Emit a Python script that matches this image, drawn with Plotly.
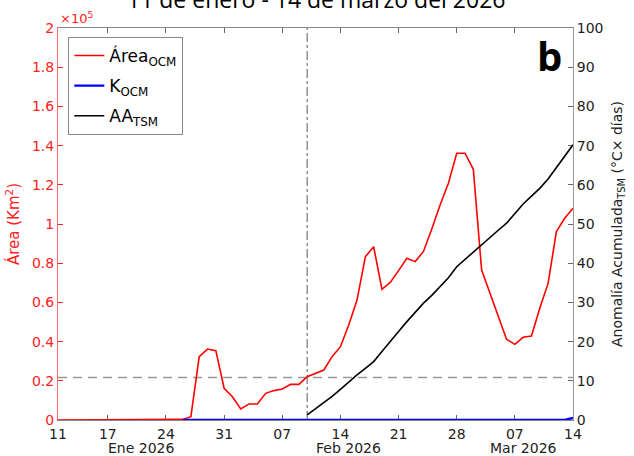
import pandas as pd
import plotly.graph_objects as go

# Daily series, 11 Jan – 14 Mar 2026
dates = pd.date_range("2026-01-11", "2026-03-14", freq="D")

# Área OCM (km²), one value per day
area_ocm = [
    0, 0, 0, 0, 0, 0, 0, 0, 0, 0, 0, 0, 0, 0, 0,
    300, 1700, 32300, 36200, 35400, 16200, 11900, 5600, 8200, 8200,
    13600, 15000, 15800, 18200, 18200, 22100, 23700, 25500, 32300, 37400,
    48500, 61200, 83300, 88400, 66700, 70200, 76200, 82500, 80800, 86000,
    97400, 109700, 120800, 136100, 136100, 127900, 76500, 64600, 52700, 41200,
    38600, 42200, 42900, 57000, 69700, 96100, 102900, 108000,
]

# K OCM (km²), from 26 Jan onwards
k_dates = pd.date_range("2026-01-26", "2026-03-14", freq="D")
k_ocm = [0] * 47 + [1000]

# Anomalía acumulada TSM (°C × días), from 10 Feb onwards
aa_dates = pd.date_range("2026-02-10", "2026-03-14", freq="D")
aa_tsm = [
    1.3, 2.8, 4.3, 6.0, 7.8, 9.7, 11.5, 13.2, 14.9, 17.5, 20.2,
    22.6, 25.1, 27.4, 29.8, 31.8, 34.0, 36.3, 39.1, 41.0, 42.9,
    44.8, 46.6, 48.4, 50.2, 52.7, 55.1, 57.1, 59.1, 61.5, 64.5,
    67.3, 70.2,
]

threshold_area = 21700
onset_date = "2026-02-10"

x_tickvals = ["2026-01-11", "2026-01-17", "2026-01-24", "2026-01-31", "2026-02-07",
              "2026-02-14", "2026-02-21", "2026-02-28", "2026-03-07", "2026-03-14"]
x_ticktext = ["11", "17", "24", "31", "07", "14", "21", "28", "07", "14"]
month_labels = ["Ene 2026", "Feb 2026", "Mar 2026"]
month_pos = ["2026-01-21", "2026-02-14 22:00", "2026-03-08"]

y_tickvals = [0, 20000, 40000, 60000, 80000, 100000, 120000, 140000, 160000, 180000, 200000]
y_ticktext = ["0", "0.2", "0.4", "0.6", "0.8", "1", "1.2", "1.4", "1.6", "1.8", "2"]

RED = "#ff2020"
TXT = "#222222"
FONT = "DejaVu Sans"

fig = go.Figure()
fig.add_trace(go.Scatter(x=dates, y=area_ocm, mode="lines", name="Área<sub>OCM</sub>",
                         legendgroup="a", line=dict(color="#ff0000", width=1.6)))
fig.add_trace(go.Scatter(x=k_dates, y=k_ocm, mode="lines", name="K<sub>OCM</sub>",
                         legendgroup="k", line=dict(color="#0000ff", width=2.4)))
fig.add_trace(go.Scatter(x=aa_dates, y=aa_tsm, mode="lines", name="AA<sub>TSM</sub>",
                         legendgroup="t", line=dict(color="#000000", width=1.6), yaxis="y2"))

# Reference lines: area threshold and start of the accumulation
fig.add_shape(type="line", xref="paper", x0=0, x1=1, yref="y", y0=threshold_area, y1=threshold_area,
              line=dict(color="#999999", width=1.6, dash="9px,6px"), layer="below")
fig.add_shape(type="line", xref="x", x0=onset_date, x1=onset_date, yref="paper", y0=0, y1=1,
              line=dict(color="#888888", width=1.4, dash="dashdot"), layer="below")

annotations = [
    dict(text="11 de enero - 14 de marzo del 2026", x=0.5, y=1.029, xref="paper", yref="paper",
         xanchor="center", yanchor="bottom", showarrow=False,
         font=dict(family="Open Sans", size=23, color="#000000")),
    dict(text="<b>b</b>", x=0.955, y=0.93, xref="paper", yref="paper",
         xanchor="center", yanchor="middle", showarrow=False,
         font=dict(family="Open Sans", size=40, color="#000000")),
    dict(text="×10<sup>5</sup>", x=0.0, y=1.0, xref="paper", yref="paper",
         xanchor="left", yanchor="bottom", showarrow=False,
         font=dict(family=FONT, size=13, color=RED)),
]
for lab, pos in zip(month_labels, month_pos):
    annotations.append(dict(text=lab, x=pos, y=-0.047, xref="x", yref="paper",
                            xanchor="center", yanchor="top", showarrow=False,
                            font=dict(family=FONT, size=14, color=TXT)))

fig.update_layout(
    width=634, height=456,
    margin=dict(l=58, r=58, t=28, b=36),
    paper_bgcolor="white", plot_bgcolor="white",
    font=dict(family=FONT, size=14, color=TXT),
    showlegend=True,
    legend=dict(x=0.02, y=0.977, xanchor="left", yanchor="top",
                bordercolor="#888888", borderwidth=1, bgcolor="white",
                font=dict(family=FONT, size=17, color="#000000"),
                tracegroupgap=5, itemwidth=30),
    annotations=annotations,
    xaxis=dict(type="date", range=["2026-01-11", "2026-03-14"],
               tickmode="array", tickvals=x_tickvals, ticktext=x_ticktext,
               ticks="inside", ticklen=5, tickcolor="#666666", ticklabelstandoff=1,
               showline=True, linecolor="#888888", linewidth=1, mirror="ticks",
               showgrid=False, zeroline=False, layer="below traces",
               tickfont=dict(family=FONT, size=14, color=TXT)),
    yaxis=dict(range=[0, 200000], tickmode="array", tickvals=y_tickvals, ticktext=y_ticktext,
               ticks="inside", ticklen=5, tickcolor=RED,
               showline=True, linecolor="#ff6666", linewidth=1,
               showgrid=False, zeroline=False, layer="below traces",
               tickfont=dict(family=FONT, size=14, color=RED),
               title=dict(text="Área (Km<sup>2</sup>)", font=dict(family=FONT, size=15, color=RED),
                          standoff=8)),
    yaxis2=dict(range=[0, 100], overlaying="y", side="right", dtick=10,
                ticks="inside", ticklen=5, tickcolor="#666666",
                showline=True, linecolor="#999999", linewidth=1,
                showgrid=False, zeroline=False, layer="below traces",
                tickfont=dict(family=FONT, size=14, color=TXT),
                title=dict(text="Anomalía Acumulada<sub>TSM</sub> (°C× días)",
                           font=dict(family=FONT, size=14, color=TXT), standoff=9)),
)

fig.write_html("out.html")
